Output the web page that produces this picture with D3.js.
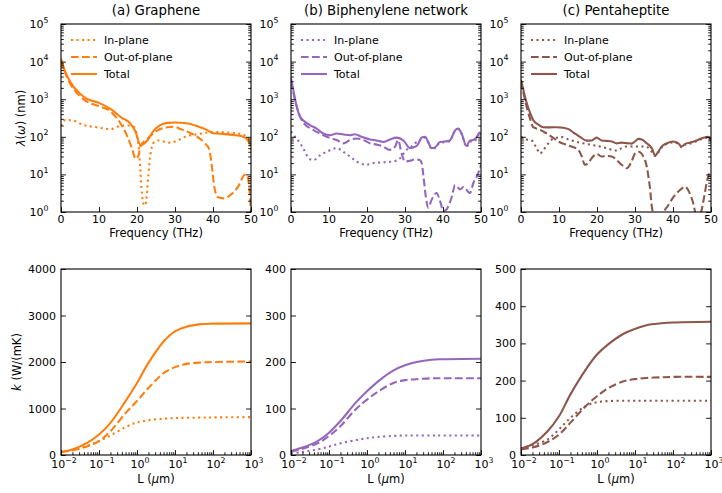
<!DOCTYPE html>
<html>
<head>
<meta charset="utf-8">
<script src="https://cdn.jsdelivr.net/npm/d3@7"></script>
<style>
  body { margin: 0; background: #fff; }
  text { font-family: "DejaVu Sans", sans-serif; fill: #000; }
</style>
</head>
<body>
<svg id="chart" width="722" height="493"></svg>
<script>
// ---- labels and ticks ----
const panelTitles = ["(a) Graphene", "(b) Biphenylene network", "(c) Pentaheptite"];
const seriesNames = ["In-plane", "Out-of-plane", "Total"];
const panelColors = ["#ff7f0e", "#9467bd", "#8c564b"];
const frequencyTicks = [0, 10, 20, 30, 40, 50];
const lambdaExponents = [0, 1, 2, 3, 4, 5];
const lengthExponents = [-2, -1, 0, 1, 2, 3];
const kTicksGraphene = [0, 1000, 2000, 3000, 4000];
const kTicksBiphenylene = [0, 100, 200, 300, 400];
const kTicksPentaheptite = [0, 100, 200, 300, 400, 500];

// ---- phonon mean free path spectra: [frequency (THz), lambda (nm)] ----
const grapheneInPlane = [[0,195],[1.1,280],[3.3,270],[5.9,205],[9.4,180],[13,160],[15.6,195],[17.4,200],[19.1,185],[20,105],[20.5,47],[20.9,12],[21.3,3],[21.8,1.6],[22.2,1.5],[22.6,3],[23,10],[23.5,32],[24.4,70],[25.7,80],[27.1,75],[28.8,70],[30.6,80],[33.2,105],[35.9,117],[38.5,130],[40.3,135],[43.8,130],[47.4,118],[49.1,95],[49.6,72],[50,45]];
const grapheneOutPlane = [[0,11000],[1,5300],[2.5,2500],[5,1200],[7,850],[10,650],[13,480],[14.5,330],[16,200],[17.5,100],[18.8,45],[19.6,26],[20.3,30],[21,60],[22.2,80],[23.5,105],[25.3,145],[28,180],[29.7,185],[31.5,160],[34.1,125],[35.9,100],[37.7,70],[39,47],[39.6,20],[40.3,5],[41.2,2.5],[42.9,2.3],[44.7,2.9],[46.5,4.5],[48.2,9.5],[48.8,10],[49.3,7],[49.8,2],[50,1]];
const grapheneTotal = [[0,12000],[1,5800],[2.5,2800],[5,1400],[7,1000],[10,800],[13,550],[16,320],[18,240],[19.5,145],[21,58],[22,68],[23,87],[24,130],[26,200],[28,235],[30,240],[33,230],[36,190],[38,160],[40,125],[43,118],[46,110],[48,100],[49,85],[50,58]];

const biphenyleneInPlane = [[0,140],[1.05,100],[2.4,67],[3.7,40],[4.6,27],[5.9,24],[7.6,32],[9.4,40],[12,50],[13.8,40],[15.5,30],[17.3,22],[19.9,18],[21.7,20],[24.3,21],[26.9,22],[28.7,27],[30.4,45],[31.3,50],[32.6,67],[33.9,80],[34.6,95],[35.3,95],[36.1,70],[37,48],[37.9,50],[39.2,70],[40.5,72],[41.8,77],[43.2,145],[44,160],[44.9,118],[46.2,53],[47.1,75],[48,76],[48.9,90],[49.6,115],[50,95]];
const biphenyleneOutPlane = [[0,3000],[1.05,950],[2.4,340],[3.7,210],[5,170],[6.75,135],[9.4,100],[12,82],[13.8,67],[15.5,82],[17.3,90],[19,82],[20.8,67],[22.5,62],[24.3,55],[26,45],[27.4,55],[28.2,82],[29.1,36],[30,22],[31.3,23],[32.6,25],[33.9,24],[34.4,20],[34.8,10],[35.5,2.5],[36.1,1.3],[37,2.1],[38.3,3.2],[39.2,2],[40.1,1.05],[41,1.2],[42.3,2.5],[43.2,5.2],[44.5,4],[45.4,4.6],[47.1,3.2],[48,6],[48.9,8.7],[50,18]];
const biphenyleneTotal = [[0,3600],[0.6,1800],[1.5,630],[2.4,340],[3.7,250],[5,205],[6.75,165],[8.5,122],[10.3,110],[12,122],[13.8,115],[15.5,110],[16.8,117],[18.6,100],[20.8,85],[22.5,80],[24.3,73],[26,85],[27.8,95],[29.6,80],[31.3,50],[33.1,57],[34.4,96],[35.3,100],[36.1,73],[37,50],[37.9,52],[39.2,73],[40.5,75],[41.8,80],[43.2,150],[44,165],[44.9,122],[46.2,57],[47.1,80],[48,82],[48.9,100],[49.6,130],[50,110]];

const pentaheptiteInPlane = [[0,100],[1.5,85],[2.8,80],[4.1,50],[5,36],[5.9,45],[7.2,67],[8.5,90],[10.7,98],[12.5,85],[14.6,73],[16.4,67],[19,60],[20.8,55],[22.5,50],[23.9,45],[25.2,43],[26.5,50],[27.8,55],[30.4,55],[32.2,55],[33.1,54],[34.4,40],[35.3,31],[36.1,38],[37,52],[38.3,64],[40.1,71],[41.4,64],[42.3,52],[43.2,62],[44.5,66],[46.2,76],[48,90],[49.3,95],[50,76]];
const pentaheptiteOutPlane = [[0,3000],[1.05,950],[2.4,300],[3.2,180],[4.6,160],[6.3,130],[8.1,100],[9.8,75],[11.6,63],[13.3,55],[15.1,45],[16,30],[16.8,18],[17.7,20],[18.6,27],[19.9,35],[21.2,30],[22.5,31],[23.9,30],[25.2,24],[26.5,18],[27.8,14.5],[29.1,22],[30,36],[30.9,40],[32.2,30],[33.1,16],[33.9,4.7],[34.6,1.1],[35.3,0.9],[36.6,0.9],[38.3,1.3],[40.1,2.5],[41.8,3.8],[43.2,4.7],[44,3.8],[45.4,1.6],[46,0.9],[47.1,0.9],[48.2,2.5],[48.9,6.3],[49.7,10.7],[50,10]];
const pentaheptiteTotal = [[0,3300],[0.6,1800],[1.5,790],[2.4,430],[3.2,280],[4.6,210],[5.9,180],[7.6,178],[9.4,180],[11.1,175],[12.5,160],[13.8,130],[15.5,100],[17.3,79],[18.6,80],[19.9,95],[21.2,80],[22.5,78],[23.9,75],[25.2,67],[26.5,70],[27.8,68],[29.1,66],[30,75],[30.9,88],[31.8,85],[33.1,67],[34.4,50],[35.3,32],[36.1,40],[37,55],[38.3,67],[40.1,75],[41.4,67],[42.3,55],[43.2,65],[44.5,70],[46.2,80],[48,95],[49.3,100],[50,80]];

// ---- accumulated thermal conductivity vs. sample length ----
const lengthsUm = [0.01, 0.02, 0.05, 0.1, 0.2, 0.5, 1, 2, 5, 10, 20, 50, 100, 1000];
const grapheneKIn = [60, 105, 200, 300, 420, 600, 700, 750, 780, 795, 800, 805, 808, 815];
const grapheneKOut = [60, 100, 190, 300, 510, 900, 1160, 1440, 1760, 1890, 1960, 1990, 2000, 2010];
const grapheneKTotal = [71, 120, 265, 440, 690, 1160, 1550, 1980, 2440, 2660, 2760, 2815, 2825, 2830];
const biphenyleneKIn = [3.6, 6.4, 12, 18, 25, 32, 36, 39, 41, 42, 42, 42, 42, 42];
const biphenyleneKOut = [7, 13.6, 25, 41, 62, 98, 119, 137, 155, 161, 163, 165, 165, 165];
const biphenyleneKTotal = [8.6, 16, 30, 48, 73, 112, 137, 159, 182, 193, 200, 205, 206, 207];
const pentaheptiteKIn = [18, 26, 42, 69, 100, 131, 142, 145, 146, 146, 146, 146, 146, 146];
const pentaheptiteKOut = [15, 20, 35, 55, 87, 131, 158, 180, 198, 204, 207, 209, 210, 210];
const pentaheptiteKTotal = [17, 29, 64, 104, 163, 229, 270, 298, 326, 339, 349, 354, 356, 358];

// ---- assemble per-panel tables ----
const spectra = [
  [grapheneInPlane, grapheneOutPlane, grapheneTotal],
  [biphenyleneInPlane, biphenyleneOutPlane, biphenyleneTotal],
  [pentaheptiteInPlane, pentaheptiteOutPlane, pentaheptiteTotal]
];
const accumulations = [
  [grapheneKIn, grapheneKOut, grapheneKTotal],
  [biphenyleneKIn, biphenyleneKOut, biphenyleneKTotal],
  [pentaheptiteKIn, pentaheptiteKOut, pentaheptiteKTotal]
];
const kTicks = [kTicksGraphene, kTicksBiphenylene, kTicksPentaheptite];

// ---- layout ----
const svg = d3.select("#chart");
const panelLeft = [61, 291, 521];
const panelWidth = 190;
const topRow = { y0: 24, y1: 212 };
const bottomRow = { y0: 269, y1: 455 };
const lineWidth = 2.08;
const dashes = ["2.08,3.44", "7.7,3.33", null];
const majorLen = 4.9, minorLen = 2.8;
const tickFont = 11;

function powerLabel(g, x, y, exp, anchor) {
  const t = g.append("text")
    .attr("x", x).attr("y", y)
    .attr("text-anchor", anchor)
    .attr("font-size", tickFont)
    .text("10");
  t.append("tspan")
    .attr("dy", -5.5)
    .attr("font-size", 7.8)
    .text(exp < 0 ? "\u2212" + (-exp) : String(exp));
}

function logMinors(lo, hi) {
  const out = [];
  for (let e = lo; e < hi; e++) {
    for (let m = 2; m <= 9; m++) out.push(m * Math.pow(10, e));
  }
  return out;
}

function styleAxis(sel) {
  sel.select(".domain").remove();
  sel.selectAll(".tick line").attr("stroke", "#000").attr("stroke-width", 0.9);
}

function frame(g, w, h) {
  g.append("rect").attr("x", 0).attr("y", 0).attr("width", w).attr("height", h)
    .attr("fill", "none").attr("stroke", "#000").attr("stroke-width", 1.1);
}

// ---- top row: mean free path spectra ----
spectra.forEach((series, i) => {
  const h = topRow.y1 - topRow.y0;
  const g = svg.append("g").attr("transform", `translate(${panelLeft[i]},${topRow.y0})`);
  const x = d3.scaleLinear().domain([0, 50]).range([0, panelWidth]);
  const y = d3.scaleLog().domain([1, 1e5]).range([h, 0]);
  const color = panelColors[i];

  const clipId = "clip-top-" + i;
  g.append("clipPath").attr("id", clipId)
    .append("rect").attr("width", panelWidth).attr("height", h);

  const line = d3.line()
    .x(d => x(d[0]))
    .y(d => y(d[1]))
    .curve(d3.curveMonotoneX);

  const plot = g.append("g").attr("clip-path", `url(#${clipId})`);
  series.forEach((data, s) => {
    plot.append("path")
      .datum(data)
      .attr("d", line)
      .attr("fill", "none")
      .attr("stroke", color)
      .attr("stroke-width", lineWidth)
      .attr("stroke-dasharray", dashes[s]);
  });

  // ticks (inward)
  const majors = lambdaExponents.map(e => Math.pow(10, e));
  const minors = logMinors(0, 5);
  g.append("g").call(d3.axisLeft(y).tickValues(majors).tickSize(-majorLen).tickFormat("")).call(styleAxis);
  g.append("g").call(d3.axisLeft(y).tickValues(minors).tickSize(-minorLen).tickFormat("")).call(styleAxis);
  g.append("g").attr("transform", `translate(${panelWidth},0)`)
    .call(d3.axisRight(y).tickValues(majors).tickSize(-majorLen).tickFormat("")).call(styleAxis);
  g.append("g").attr("transform", `translate(${panelWidth},0)`)
    .call(d3.axisRight(y).tickValues(minors).tickSize(-minorLen).tickFormat("")).call(styleAxis);
  g.append("g").attr("transform", `translate(0,${h})`)
    .call(d3.axisBottom(x).tickValues(frequencyTicks).tickSize(-majorLen).tickFormat("")).call(styleAxis);

  frame(g, panelWidth, h);

  // tick labels
  lambdaExponents.forEach(e => powerLabel(g, -12.5, y(Math.pow(10, e)) + 4, e, "end"));
  frequencyTicks.forEach(v => {
    g.append("text").attr("x", x(v)).attr("y", h + 11)
      .attr("text-anchor", "middle").attr("font-size", tickFont).text(v);
  });

  g.append("text").attr("x", panelWidth / 2).attr("y", h + 25)
    .attr("text-anchor", "middle").attr("font-size", 11.5).text("Frequency (THz)");
  g.append("text").attr("x", panelWidth / 2).attr("y", -9)
    .attr("text-anchor", "middle").attr("font-size", 13.3).text(panelTitles[i]);

  // legend
  seriesNames.forEach((name, s) => {
    const ly = 16 + s * 17;
    g.append("line").attr("x1", 10).attr("x2", 36).attr("y1", ly).attr("y2", ly)
      .attr("stroke", color).attr("stroke-width", lineWidth)
      .attr("stroke-dasharray", dashes[s]);
    g.append("text").attr("x", 43).attr("y", ly + 4).attr("font-size", 11).text(name);
  });
});

// y label, top row
{
  const t = svg.append("text")
    .attr("transform", `translate(25,${(topRow.y0 + topRow.y1) / 2}) rotate(-90)`)
    .attr("text-anchor", "middle").attr("font-size", 11.5);
  t.append("tspan").attr("font-style", "italic").text("\u03bb");
  t.append("tspan").text("(");
  t.append("tspan").attr("font-style", "italic").text("\u03c9");
  t.append("tspan").text(") (nm)");
}

// ---- bottom row: accumulated thermal conductivity ----
accumulations.forEach((series, i) => {
  const h = bottomRow.y1 - bottomRow.y0;
  const g = svg.append("g").attr("transform", `translate(${panelLeft[i]},${bottomRow.y0})`);
  const x = d3.scaleLog().domain([1e-2, 1e3]).range([0, panelWidth]);
  const ticks = kTicks[i];
  const y = d3.scaleLinear().domain([0, ticks[ticks.length - 1]]).range([h, 0]);
  const color = panelColors[i];

  const clipId = "clip-bottom-" + i;
  g.append("clipPath").attr("id", clipId)
    .append("rect").attr("width", panelWidth).attr("height", h);

  // smooth spline through the sampled lengths
  const line = d3.line()
    .x(d => x(d[0]))
    .y(d => y(d[1]))
    .curve(d3.curveCatmullRom.alpha(0.5));

  const plot = g.append("g").attr("clip-path", `url(#${clipId})`);
  series.forEach((values, s) => {
    plot.append("path")
      .datum(lengthsUm.map((L, k) => [L, values[k]]))
      .attr("d", line)
      .attr("fill", "none")
      .attr("stroke", color)
      .attr("stroke-width", lineWidth)
      .attr("stroke-dasharray", dashes[s]);
  });

  const majors = lengthExponents.map(e => Math.pow(10, e));
  const minors = logMinors(-2, 3);
  g.append("g").call(d3.axisLeft(y).tickValues(ticks).tickSize(-majorLen).tickFormat("")).call(styleAxis);
  g.append("g").attr("transform", `translate(${panelWidth},0)`)
    .call(d3.axisRight(y).tickValues(ticks).tickSize(-majorLen).tickFormat("")).call(styleAxis);
  g.append("g").attr("transform", `translate(0,${h})`)
    .call(d3.axisBottom(x).tickValues(majors).tickSize(-majorLen).tickFormat("")).call(styleAxis);
  g.append("g").attr("transform", `translate(0,${h})`)
    .call(d3.axisBottom(x).tickValues(minors).tickSize(-minorLen).tickFormat("")).call(styleAxis);

  frame(g, panelWidth, h);

  ticks.forEach(v => {
    g.append("text").attr("x", -5).attr("y", y(v) + 4)
      .attr("text-anchor", "end").attr("font-size", tickFont).text(v);
  });
  lengthExponents.forEach(e => powerLabel(g, x(Math.pow(10, e)) + 3, h + 13, e, "middle"));

  const xl = g.append("text").attr("x", panelWidth / 2).attr("y", h + 28)
    .attr("text-anchor", "middle").attr("font-size", 11.5);
  xl.append("tspan").text("L (");
  xl.append("tspan").attr("font-style", "italic").text("\u03bc");
  xl.append("tspan").text("m)");
});

// y label, bottom row
{
  const t = svg.append("text")
    .attr("transform", `translate(21,${(bottomRow.y0 + bottomRow.y1) / 2}) rotate(-90)`)
    .attr("text-anchor", "middle").attr("font-size", 11.5);
  t.append("tspan").attr("font-style", "italic").text("k");
  t.append("tspan").text(" (W/(mK)");
}
</script>
</body>
</html>
